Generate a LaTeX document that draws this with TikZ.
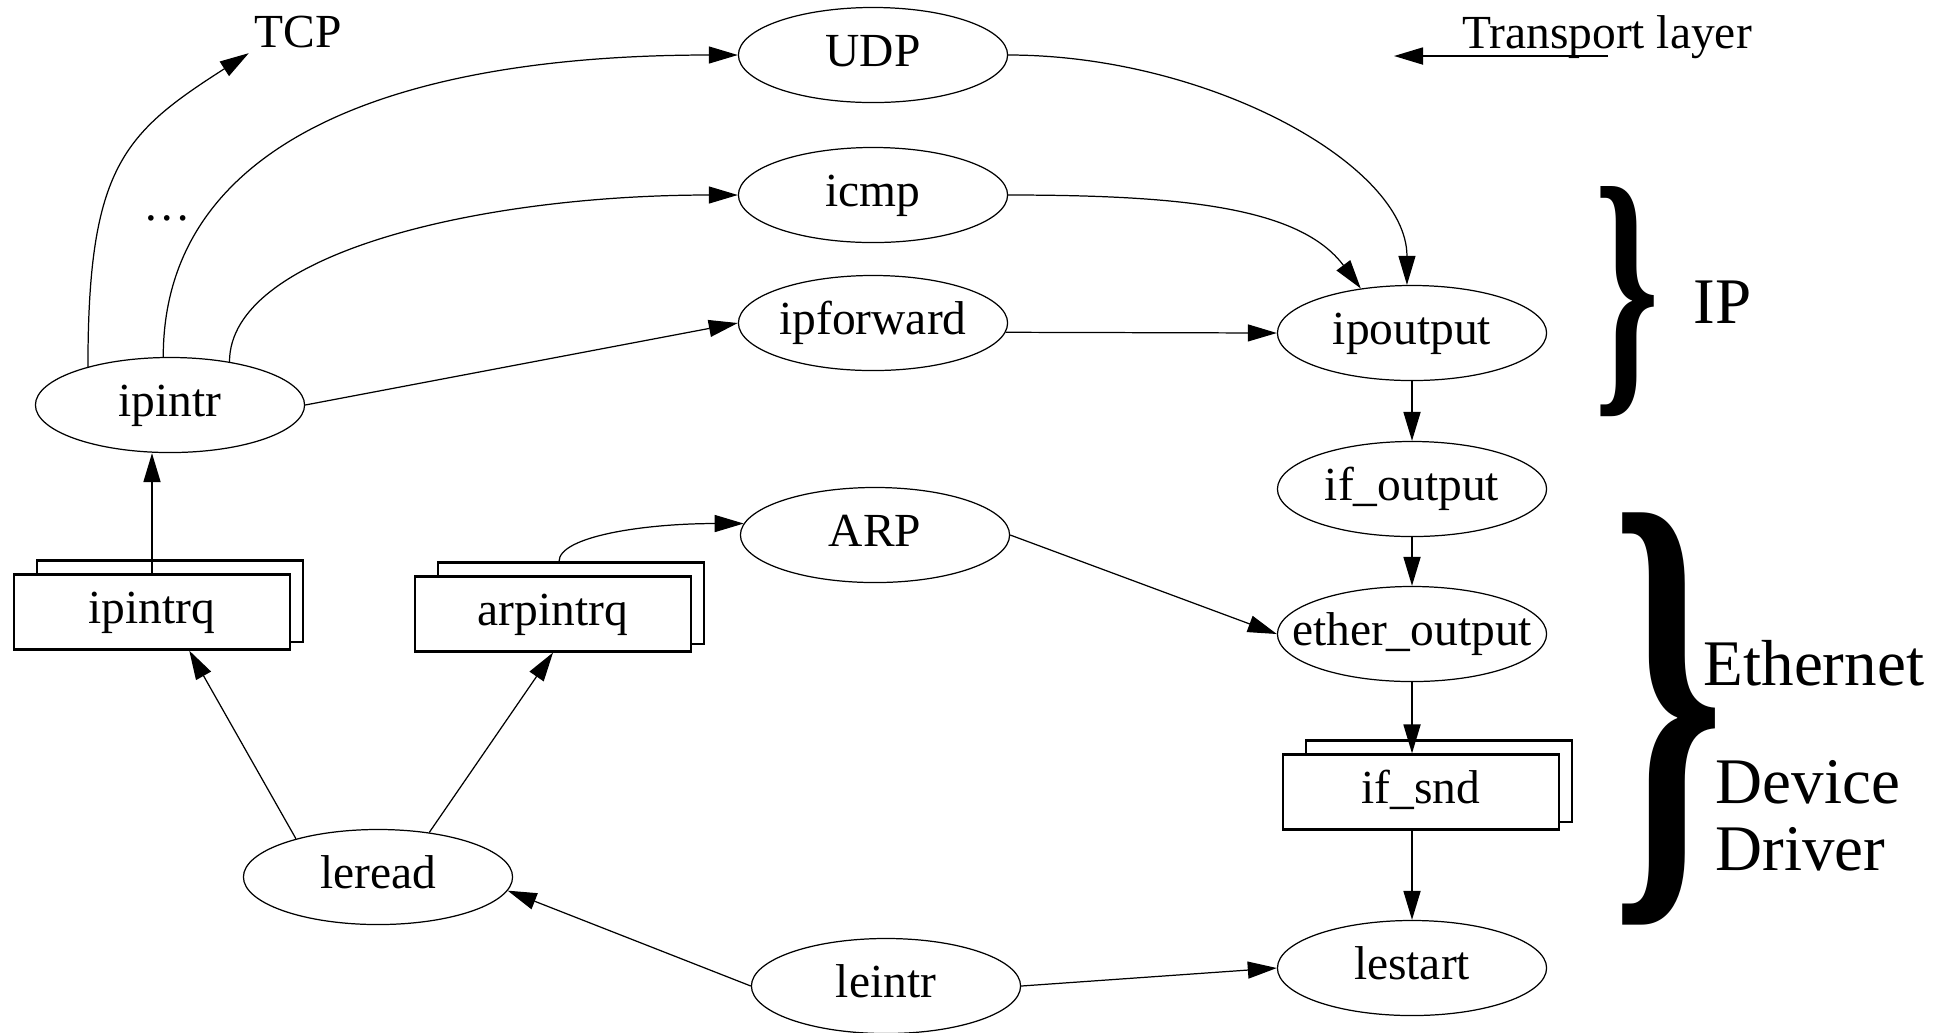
\documentclass[tikz,border=0pt]{standalone}
\usepackage{fontspec}
\usepackage{graphicx}
\setmainfont{Liberation Serif}
\usetikzlibrary{shapes.geometric,arrows.meta,calc,backgrounds}

\newcommand{\nodefont}{\fontsize{13.5}{16}\selectfont}
\newcommand{\sidefont}{\fontsize{18.5}{22}\selectfont}

\tikzset{
  proc/.style={ellipse, draw, line width=0.35pt, minimum width=2.69cm, minimum height=0.95cm,
    inner xsep=-0.6cm, inner ysep=-0.4cm, text height=0.89em, text depth=0.22em, font=\nodefont},
  queue/.style={rectangle, draw, fill=white, line width=0.6pt, minimum width=2.76cm, minimum height=0.75cm,
    inner sep=0pt, text height=0.89em, text depth=0.22em, font=\nodefont},
  queueback/.style={draw, fill=white, line width=0.6pt},
  callarr/.style={-{Triangle[length=0.29cm,width=0.17cm]}, line width=0.35pt},
  vcall/.style={callarr, line width=0.5pt},
  lbl/.style={font=\nodefont},
  sidelbl/.style={font=\sidefont, inner sep=0pt},
}

\begin{document}
\begin{tikzpicture}[x=0.01cm, y=-0.01cm]
  \useasboundingbox (0,0) rectangle (1937,1032);

  % processing routines
  \node[proc] (udp) at (873,55) {UDP};
  \node[proc] (icmp) at (873,195) {icmp};
  \node[proc] (ipforward) at (873,323) {ipforward};
  \node[proc] (ipoutput) at (1412,333) {ipoutput};
  \node[proc] (ipintr) at (170,405) {ipintr};
  \node[proc] (ifoutput) at (1412,489) {if\_output};
  \node[proc] (arp) at (875,535) {ARP};
  \node[proc] (etheroutput) at (1412,634) {ether\_output};
  \node[proc] (leread) at (378,877) {leread};
  \node[proc] (leintr) at (886,986) {leintr};
  \node[proc] (lestart) at (1412,968) {lestart};

  % queues
  \node[queue] (ipintrq) at (152,612) {ipintrq};
  \node[queue] (arpintrq) at (553,614) {arpintrq};
  \node[queue] (ifsnd) at (1421,792) {if\_snd};
  \begin{scope}[on background layer]
    \foreach \q in {ipintrq,arpintrq,ifsnd}
      \draw[queueback] ($(\q.south west)+(24,-9)$) rectangle ($(\q.north east)+(12,-13)$);
  \end{scope}

  % labels
  \node[lbl, anchor=base, inner sep=0.05cm] (tcp) at (298,47) {TCP};
  \node[lbl, anchor=base] (dots) at (167,220) {\dots};
  \node[lbl, anchor=base] (transport) at (1607,48) {Transport layer};
  \coordinate (tlfrom) at (1608,56);
  \coordinate (tlto) at (1394,56);
  \draw[vcall] (tlfrom) -- (tlto);

  \node[inner sep=0pt] (ipbrace) at (1627,302) {\resizebox*{0.65cm}{2.30cm}{\bfseries\}}};
  \node[inner sep=0pt] (ethbrace) at (1668,719) {\resizebox*{1.13cm}{4.12cm}{\bfseries\}}};
  \node[sidelbl, anchor=base west] (iptext) at (1693,323) {IP};
  \node[sidelbl, anchor=base west] (ethtext) at (1703,685) {Ethernet};
  \node[sidelbl, anchor=base west] (devtext) at (1715,803) {Device};
  \node[sidelbl, anchor=base west] (drvtext) at (1715,870) {Driver};

  % input side
  \draw[callarr] (ipintr.155) .. controls +(0,-200) and +(-125,80) .. (tcp.south west);
  \draw[callarr] (ipintr.98) .. controls +(0,-207) and +(-359,0) .. (udp.west);
  \draw[callarr] (ipintr.36) .. controls +(0,-108) and +(-259,0) .. (icmp.west);
  \draw[callarr] (ipintr.east) -- (ipforward.west);
  \draw[vcall] (ipintrq.north) -- (ipintrq.north |- ipintr.south);
  \draw[callarr] (leread.155) -- (ipintrq.-46);
  \draw[callarr] (leread.41) -- (arpintrq.south);
  \draw[callarr] ($(arpintrq.north)+(6,-14)$) .. controls +(0,-25) and +(-100,0) .. (arp.175);
  \draw[callarr] (leintr.west) -- (leread.-6);

  % output side
  \draw[callarr] (udp.east) .. controls +(200,0) and +(0,-120) .. (ipoutput.96);
  \draw[callarr] (icmp.east) .. controls +(180,0) and +(-60,-80) .. (ipoutput.139);
  \draw[callarr] (ipforward.-4) -- (ipoutput.west);
  \draw[vcall] (ipoutput.south) -- (ifoutput.north);
  \draw[vcall] (ifoutput.south) -- (etheroutput.north);
  \draw[callarr] (arp.east) -- (etheroutput.west);
  \draw[vcall] (etheroutput.south) -- (etheroutput.south |- ifsnd.north);
  \draw[vcall] (lestart.north |- ifsnd.south) -- (lestart.north);
  \draw[callarr] (leintr.east) -- (lestart.west);
\end{tikzpicture}
\end{document}
